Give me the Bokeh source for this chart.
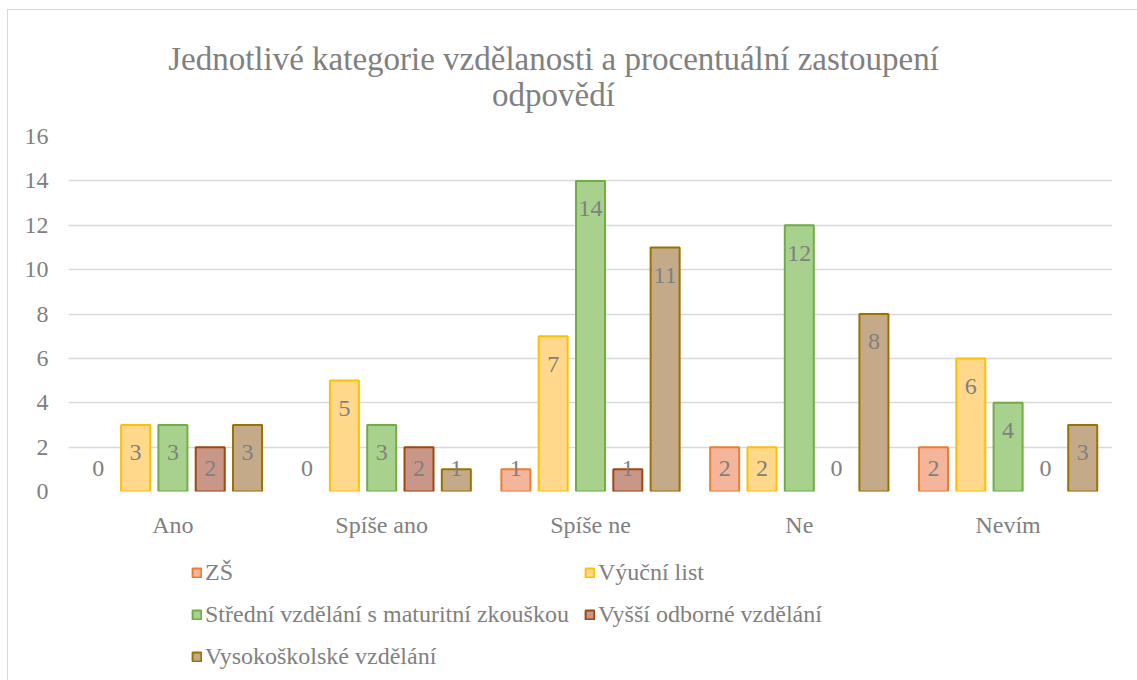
from bokeh.plotting import figure
from bokeh.layouts import column
from bokeh.models import ColumnDataSource, FactorRange, Legend, LegendItem, FixedTicker, Label, Range1d
from bokeh.transform import dodge
from bokeh.core.properties import value
from bokeh.embed import file_html
from bokeh.resources import INLINE

# ---- data ----
categories = ["Ano", "Spíše ano", "Spíše ne", "Ne", "Nevím"]
series_names = ["ZŠ", "Výuční list", "Střední vzdělání s maturitní zkouškou",
                "Vyšší odborné vzdělání", "Vysokoškolské vzdělání"]
zs = [0, 0, 1, 2, 2]
vyucni_list = [3, 5, 7, 2, 6]
stredni = [3, 3, 14, 12, 4]
vyssi_odborne = [2, 2, 1, 0, 0]
vysokoskolske = [3, 1, 11, 8, 3]
y_ticks = [0, 2, 4, 6, 8, 10, 12, 14, 16]
title_lines = ["Jednotlivé kategorie vzdělanosti a procentuální zastoupení", "odpovědí"]

series_values = [zs, vyucni_list, stredni, vyssi_odborne, vysokoskolske]

# ---- style ----
FONT = "'Liberation Serif', 'Times New Roman', serif"
TEXT = "#808080"
fills = ["#F5B59C", "#FFD88C", "#A9D18E", "#C9978A", "#C4AA88"]
lines = ["#ED7D31", "#FFC000", "#70AD47", "#9E480E", "#997300"]
step = 0.1787
bar_w = 0.139
W = 1129


def bare(fig):
    fig.outline_line_color = None
    fig.background_fill_color = "white"
    fig.border_fill_color = "white"
    fig.grid.visible = False
    return fig


# ---- header with the title ----
head = bare(figure(width=W, height=110, x_range=(0, 1), y_range=(0, 1),
                   x_axis_location=None, y_axis_location=None, min_border=0,
                   title=None, output_backend="svg", toolbar_location=None))
head.add_layout(Label(x=485, y=62, x_units="screen", y_units="screen", text=title_lines[0],
                      text_align="center", text_baseline="middle", text_font=FONT,
                      text_font_size="33px", text_color=TEXT))
head.add_layout(Label(x=485, y=26, x_units="screen", y_units="screen", text=title_lines[1],
                      text_align="center", text_baseline="middle", text_font=FONT,
                      text_font_size="33px", text_color=TEXT))

# ---- main chart ----
p = figure(x_range=FactorRange(*categories, range_padding=0), y_range=(0, 16),
           width=W, height=420, title=None,
           min_border_left=60, min_border_right=25, min_border_top=16, min_border_bottom=48,
           output_backend="svg", toolbar_location=None)
p.outline_line_color = None
p.background_fill_color = "white"
p.border_fill_color = "white"

p.xgrid.grid_line_color = None
p.ygrid.ticker = FixedTicker(ticks=y_ticks)
p.ygrid.grid_line_color = "#D9D9D9"
p.ygrid.grid_line_width = 1.5

p.yaxis.ticker = FixedTicker(ticks=y_ticks)
p.yaxis.axis_line_color = None
p.yaxis.major_tick_line_color = None
p.yaxis.minor_tick_line_color = None
p.yaxis.major_label_text_font = FONT
p.yaxis.major_label_text_font_size = "24px"
p.yaxis.major_label_text_color = TEXT
p.yaxis.major_label_standoff = 14

p.xaxis.axis_line_color = None
p.xaxis.major_tick_line_color = None
p.xaxis.minor_tick_line_color = None
p.xaxis.major_label_text_font = FONT
p.xaxis.major_label_text_font_size = "24px"
p.xaxis.major_label_text_color = TEXT
p.xaxis.major_label_standoff = 14

# ---- legend strip ----
leg = bare(figure(width=W, height=140, x_range=FactorRange(*categories, range_padding=0),
                  y_range=Range1d(0, 16),
                  x_axis_location=None, y_axis_location=None, min_border=0,
                  title=None, output_backend="svg", toolbar_location=None))

legend_items = []
for i, (name, vals) in enumerate(zip(series_names, series_values)):
    off = (i - 2) * step
    src = ColumnDataSource(dict(
        cat=categories,
        val=vals,
        lalpha=[1.0 if v > 0 else 0.0 for v in vals],
        falpha=[1.0 if v > 0 else 0.0 for v in vals],
        label=[str(v) for v in vals],
        label_y=[max(v - 1.26, 1.03) for v in vals],
    ))
    p.vbar(x=dodge("cat", off, range=p.x_range), top="val", bottom=0, width=bar_w,
           source=src, fill_color=fills[i], line_color=lines[i], line_width=2,
           line_alpha="lalpha", fill_alpha="falpha")
    p.text(x=dodge("cat", off, range=p.x_range), y="label_y", text="label", source=src,
           text_align="center", text_baseline="middle", text_font=value(FONT),
           text_font_size="24px", text_color=TEXT)
    # legend proxy (hidden) for the legend strip
    r = leg.vbar(x=dodge("cat", off, range=leg.x_range), top="val", bottom=0, width=bar_w,
                 source=src, fill_color=fills[i], line_color=lines[i], line_width=2,
                 visible=False)
    legend_items.append(LegendItem(label=name, renderers=[r]))

legend = Legend(items=legend_items, orientation="horizontal", ncols=2,
                location=(123, 10), margin=0, padding=0,
                border_line_color=None, background_fill_alpha=0,
                inactive_fill_alpha=0,
                glyph_width=11, glyph_height=11, label_standoff=3,
                label_height=26, spacing=15,
                label_text_font=FONT, label_text_font_size="24px", label_text_color=TEXT)
leg.add_layout(legend, "center")

layout = column(head, p, leg, spacing=0,
                styles={"margin": "9px 0px 0px 7px",
                        "border-top": "1px solid #D9D9D9", "border-left": "1px solid #D9D9D9"})

open("out.html", "w").write(file_html(layout, INLINE))
